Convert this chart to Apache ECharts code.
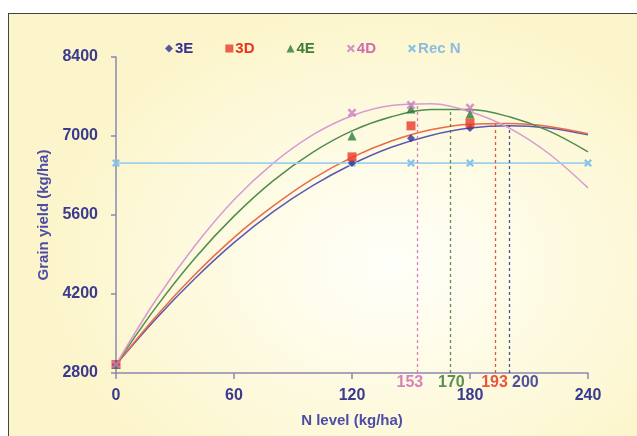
<!DOCTYPE html>
<html>
<head>
<meta charset="utf-8">
<script src="https://cdn.jsdelivr.net/npm/echarts@6/dist/echarts.min.js"></script>
<style>
  html, body { margin: 0; padding: 0; background: #ffffff; overflow: hidden; }
  #frame {
    position: absolute; left: 8px; top: 13px; width: 640px; height: 430px;
    border-left: 1px solid #444; border-top: 1px solid #444;
    background: radial-gradient(ellipse 340px 260px at 380px 250px, #fffffa 0%, #fefbe4 45%, #fcf5cb 100%);
  }
  #chart { position: absolute; left: 0; top: 0; width: 637px; height: 436px; }
</style>
</head>
<body>
<div id="frame"></div>
<div id="chart"></div>
<script>
// N levels for the fitted curves (kg/ha)
const nLevels = [0, 20, 40, 60, 80, 100, 120, 140, 160, 180, 200, 220, 240];
// fitted curves (kg/ha)
const fit3E = [2950, 3750, 4470, 5110, 5660, 6120, 6500, 6800, 7010, 7140, 7180, 7140, 7020];
const fit3D = [2950, 3790, 4540, 5200, 5760, 6240, 6620, 6910, 7110, 7210, 7220, 7170, 7040];
const fit4E = [2950, 3950, 4830, 5580, 6210, 6710, 7090, 7340, 7470, 7470, 7340, 7090, 6720];
const fit4D = [2950, 4080, 5050, 5870, 6520, 7020, 7360, 7540, 7570, 7430, 7140, 6690, 6080];

// observed points
const obsN = [0, 120, 150, 180];
const obs3E = [2950, 6520, 6960, 7140];
const obs3D = [2950, 6630, 7180, 7230];
const obs4E = [2950, 7000, 7480, 7390];
const obs4D = [2950, 7410, 7550, 7500];

// recommended N
const recN = [0, 120, 150, 180, 240];
const recYield = [6520, 6520, 6520, 6520, 6520];

// economic optimum N and the yield it reaches
const optNames = ['3E', '3D', '4E', '4D'];
const optN = [200, 193, 170, 153];
const optYield = [7180, 7225, 7480, 7580];

const xTicks = [0, 60, 120, 180, 240];
const yTicks = [2800, 4200, 5600, 7000, 8400];

const lineColors = { '3E': '#5a58b4', '3D': '#ec6a45', '4E': '#4f8d4f', '4D': '#d89ad2' };
const markColors = { '3E': '#2e3192', '3D': '#ea3a26', '4E': '#2c7a3a', '4D': '#cc7cc4', 'Rec N': '#86c4e6' };
const labelColors = { '3E': '#34348f', '3D': '#e8361f', '4E': '#3f7d34', '4D': '#d06cb4' };
const labelOffset = { '3E': [16, 0], '3D': [-1, 0], '4E': [1, 0], '4D': [-7, 0] };

const xPath = 'path://M2,0 L5,3 L8,0 L10,2 L7,5 L10,8 L8,10 L5,7 L2,10 L0,8 L3,5 L0,2 Z';
const symbols = { '3E': 'diamond', '3D': 'rect', '4E': 'triangle', '4D': xPath, 'Rec N': xPath };
const symbolSizes = { '3E': 8, '3D': 9, '4E': 9, '4D': 9, 'Rec N': 8 };

const fits = { '3E': fit3E, '3D': fit3D, '4E': fit4E, '4D': fit4D };
const obs = { '3E': obs3E, '3D': obs3D, '4E': obs4E, '4D': obs4D };

const chart = echarts.init(document.getElementById('chart'));

const series = [];
// curves with the dashed optimum lines
optNames.forEach((name, i) => {
  series.push({
    name: name + ' fit',
    type: 'line',
    smooth: 0.35,
    showSymbol: false,
    silent: true,
    z: 2,
    data: nLevels.map((n, j) => [n, fits[name][j]]),
    lineStyle: { color: lineColors[name], width: 1.5 },
    markLine: {
      silent: true,
      symbol: ['none', 'none'],
      lineStyle: { color: labelColors[name], type: [3, 3], width: 1.3, opacity: 0.85 },
      label: {
        show: true,
        position: 'start',
        distance: 2,
        formatter: String(optN[i]),
        color: labelColors[name],
        fontFamily: 'Liberation Sans',
        fontWeight: 'bold',
        fontSize: 16,
        offset: labelOffset[name]
      },
      data: [[{ coord: [optN[i], 2800] }, { coord: [optN[i], optYield[i]] }]]
    }
  });
});
// observed markers
['3E', '3D', '4E', '4D'].forEach((name) => {
  series.push({
    name: name,
    type: 'scatter',
    z: 5,
    symbol: symbols[name],
    symbolSize: symbolSizes[name],
    itemStyle: { color: markColors[name] },
    data: obsN.map((n, j) => [n, obs[name][j]])
  });
});
series.push({
  name: 'Rec N',
  type: 'line',
  z: 4,
  symbol: symbols['Rec N'],
  symbolSize: symbolSizes['Rec N'],
  itemStyle: { color: markColors['Rec N'] },
  lineStyle: { color: '#9fd0ec', width: 1.8 },
  data: recN.map((n, j) => [n, recYield[j]])
});

const legendNames = ['3E', '3D', '4E', '4D', 'Rec N'];

chart.setOption({
  animation: false,
  textStyle: { fontFamily: 'Liberation Sans' },
  grid: { left: 116, right: 49, top: 57, bottom: 63 },
  legend: {
    left: 160,
    top: 36,
    itemGap: 32,
    itemWidth: 8,
    itemHeight: 8,
    textStyle: { fontSize: 15, fontWeight: 'bold', padding: [0, 0, 0, -3] },
    data: legendNames.map(n => ({
      name: n,
      icon: symbols[n],
      itemStyle: { color: markColors[n] },
      textStyle: { color: n === 'Rec N' ? '#8cbde0' : labelColors[n] }
    }))
  },
  xAxis: {
    type: 'value',
    min: xTicks[0],
    max: xTicks[xTicks.length - 1],
    interval: 60,
    name: 'N level (kg/ha)',
    nameLocation: 'middle',
    nameGap: 40,
    nameTextStyle: { color: '#4d4da6', fontSize: 15, fontWeight: 'bold' },
    axisLine: { lineStyle: { color: '#8c88b2', width: 1.5 } },
    axisTick: { show: true, inside: false, length: 6, lineStyle: { color: '#8c88b2', width: 1.5 } },
    axisLabel: { color: '#3a3a8e', fontSize: 16, fontWeight: 'bold', margin: 15 },
    splitLine: { show: false }
  },
  yAxis: {
    type: 'value',
    min: yTicks[0],
    max: yTicks[yTicks.length - 1],
    interval: 1400,
    name: 'Grain yield (kg/ha)',
    nameLocation: 'middle',
    nameGap: 62,
    nameTextStyle: { color: '#4d4da6', fontSize: 15, fontWeight: 'bold' },
    axisLine: { show: true, lineStyle: { color: '#8c88b2', width: 1.5 } },
    axisTick: { show: true, length: 5, lineStyle: { color: '#8c88b2', width: 1.5 } },
    axisLabel: {
      color: '#3a3a8e', fontSize: 16, fontWeight: 'bold', margin: 18,
      formatter: (v) => String(v)
    },
    splitLine: { show: false }
  },
  series: series
});
</script>
</body>
</html>
